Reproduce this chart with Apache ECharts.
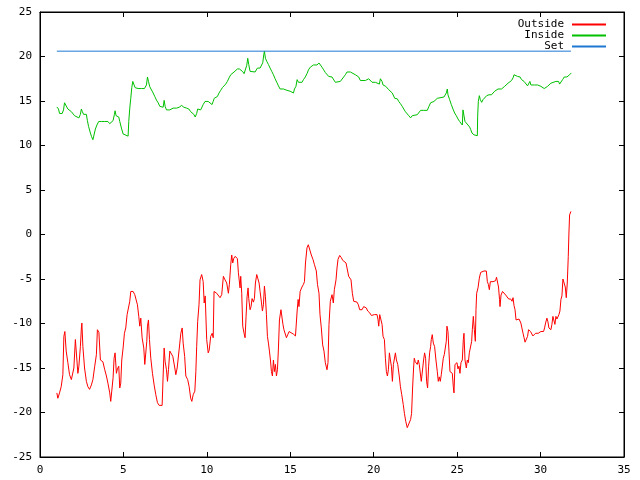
<!DOCTYPE html>
<html><head><meta charset="utf-8">
<script src="https://cdn.jsdelivr.net/npm/echarts@6/dist/echarts.min.js"></script>
<style>html,body{margin:0;padding:0;background:#fff}#c{width:640px;height:480px}</style>
</head><body><div id="c"></div>
<script>
var xTicks = [0,5,10,15,20,25,30,35];
var yTicks = [-25,-20,-15,-10,-5,0,5,10,15,20,25];
var seriesNames = ['Outside','Inside','Set'];
var seriesColors = ['#ff0000','#00c000','#1e78d2'];

var outsideX = [1.01,1.07,1.17,1.27,1.37,1.43,1.49,1.57,1.67,1.77,1.88,1.97,2.03,2.12,2.18,2.27,2.33,2.42,2.48,2.51,2.57,2.67,2.78,2.87,2.97,3.08,3.17,3.28,3.38,3.44,3.50,3.53,3.62,3.71,3.77,3.88,3.98,4.07,4.18,4.24,4.34,4.38,4.44,4.50,4.58,4.64,4.72,4.78,4.84,4.90,4.98,5.06,5.14,5.22,5.30,5.38,5.44,5.58,5.68,5.78,5.84,5.92,5.98,6.04,6.12,6.22,6.28,6.34,6.40,6.44,6.50,6.56,6.64,6.74,6.84,6.94,7.04,7.14,7.32,7.38,7.44,7.50,7.58,7.64,7.70,7.78,7.88,7.96,8.02,8.08,8.14,8.22,8.31,8.38,8.44,8.52,8.58,8.67,8.74,8.85,8.94,9.03,9.10,9.18,9.28,9.34,9.39,9.45,9.53,9.59,9.69,9.78,9.84,9.90,9.99,10.08,10.14,10.23,10.32,10.38,10.43,10.49,10.59,10.69,10.79,10.89,10.99,11.09,11.19,11.29,11.35,11.43,11.49,11.55,11.61,11.69,11.75,11.83,11.89,11.95,11.99,12.03,12.09,12.15,12.23,12.29,12.35,12.41,12.47,12.51,12.59,12.65,12.71,12.79,12.85,12.91,12.99,13.05,13.13,13.19,13.27,13.33,13.39,13.45,13.51,13.57,13.63,13.69,13.75,13.81,13.87,13.93,13.99,14.05,14.11,14.17,14.23,14.29,14.35,14.44,14.50,14.56,14.62,14.69,14.77,14.86,14.93,15.04,15.19,15.31,15.35,15.41,15.47,15.52,15.59,15.70,15.79,15.85,15.91,16.00,16.08,16.15,16.26,16.36,16.45,16.56,16.63,16.72,16.78,16.86,16.94,17.02,17.10,17.16,17.20,17.26,17.32,17.40,17.50,17.58,17.64,17.74,17.80,17.86,17.96,18.06,18.14,18.24,18.34,18.40,18.50,18.64,18.72,18.80,19.00,19.08,19.16,19.30,19.40,19.46,19.56,19.64,19.76,19.86,19.96,20.04,20.12,20.20,20.26,20.30,20.36,20.44,20.50,20.56,20.64,20.70,20.76,20.82,20.88,20.94,21.00,21.06,21.12,21.18,21.24,21.30,21.36,21.44,21.53,21.60,21.68,21.77,21.84,21.92,22.01,22.10,22.21,22.27,22.33,22.39,22.43,22.49,22.55,22.61,22.67,22.73,22.79,22.85,22.93,22.99,23.05,23.11,23.17,23.23,23.29,23.35,23.41,23.45,23.51,23.57,23.65,23.73,23.81,23.87,23.93,23.99,24.05,24.13,24.17,24.23,24.29,24.35,24.39,24.45,24.51,24.57,24.65,24.71,24.77,24.81,24.87,24.93,24.99,25.05,25.11,25.17,25.23,25.31,25.37,25.41,25.47,25.55,25.61,25.67,25.73,25.81,25.87,25.91,25.97,26.03,26.09,26.13,26.17,26.25,26.33,26.41,26.51,26.61,26.75,26.81,26.87,26.93,26.99,27.07,27.15,27.24,27.30,27.36,27.43,27.48,27.54,27.57,27.63,27.72,27.81,27.91,28.02,28.09,28.21,28.29,28.35,28.41,28.47,28.53,28.62,28.71,28.82,28.88,28.95,29.01,29.07,29.16,29.22,29.28,29.34,29.40,29.48,29.54,29.62,29.70,29.78,29.86,29.94,30.02,30.10,30.18,30.24,30.30,30.38,30.44,30.50,30.56,30.62,30.68,30.74,30.80,30.86,30.92,30.98,31.04,31.10,31.16,31.22,31.28,31.34,31.42,31.48,31.54,31.60,31.66,31.70,31.74,31.82];
var outsideY = [-17.8,-18.4,-17.8,-17.1,-15.75,-11.45,-10.9,-13.1,-14.4,-15.75,-16.3,-16.5,-15,-11.8,-12,-15.6,-14.8,-12.6,-10.5,-9.95,-12.6,-15,-16.5,-17.1,-17.4,-16.9,-16.3,-14.8,-13.5,-10.7,-10.5,-11,-14.1,-14.1,-14.3,-15.2,-15.9,-16.7,-17.8,-18.75,-18.6,-16.1,-13.9,-13.3,-15.6,-15.1,-14.8,-17.25,-16.7,-14.1,-12.75,-11.1,-10.5,-9,-8.26,-7.5,-6.4,-6.4,-6.76,-6.9,-7.9,-9.2,-10.3,-9.4,-11.6,-12.75,-14.6,-14.4,-12,-10.3,-9.6,-11.8,-13.9,-15.6,-16.9,-18,-18.9,-19.2,-19.2,-15.9,-12.75,-14.3,-15.2,-16.5,-15.2,-13.1,-13,-13.7,-13.9,-15,-15.75,-15,-14.8,-12.2,-11.1,-10.5,-12.2,-13.7,-15.9,-16.3,-17.1,-18.4,-18.75,-18,-17.6,-15.4,-12.6,-9.76,-7.9,-5.1,-4.5,-5.3,-7.7,-6.9,-11.8,-13.3,-13,-11.45,-11.1,-11.6,-6.4,-6.4,-6.6,-6.76,-7.1,-6.76,-4.7,-5.1,-5.45,-6.6,-5.6,-3.4,-2.3,-3.2,-2.7,-2.46,-2.3,-2.7,-4.3,-4.3,-6,-4.7,-6.6,-10.3,-11.1,-11.6,-9.2,-7,-6,-7.2,-8.45,-8.1,-7.2,-7.6,-7.2,-5.45,-4.5,-4.9,-5.45,-6.4,-7.6,-8.6,-7.9,-5.8,-7,-9,-11.45,-12.2,-13.1,-14.1,-15.4,-15.9,-14.1,-15.4,-14.6,-15.9,-15.2,-12.75,-9.6,-8.45,-8.45,-10.1,-10.7,-10.5,-11.6,-11.2,-10.9,-11.1,-11.2,-11.4,-10.3,-8.6,-7.3,-8.1,-6.4,-5.9,-5.6,-5.3,-3.2,-1.5,-1.15,-1.3,-2.3,-2.8,-3.4,-4.1,-5.6,-6.6,-9,-10.5,-12.4,-13.1,-14.4,-14.3,-15.2,-14.4,-10.1,-7.5,-6.76,-7.7,-6.2,-5.1,-3.76,-2.8,-2.35,-2.6,-2.9,-2.8,-3.2,-3.76,-4.7,-5.1,-6.6,-7.5,-7.6,-7.9,-8.45,-8.45,-8.1,-7.9,-8.26,-8.6,-8.8,-9.1,-8.9,-9,-9.2,-9,-9.6,-10.3,-9,-9.2,-10.1,-11.45,-11.8,-13.9,-15.4,-15.9,-15.2,-13.3,-14.1,-14.8,-16.5,-14.6,-14.4,-13.3,-14.1,-14.6,-15.9,-17.1,-18,-19.1,-20.1,-21,-21.7,-21.5,-20.8,-20.1,-17.25,-15,-13.9,-14.3,-14.1,-14.6,-14.1,-14.6,-14.8,-16.5,-16.5,-14.1,-13.3,-13.9,-16.5,-17.25,-14.8,-13.3,-12.6,-11.8,-11.25,-12.2,-12.6,-14.1,-15.4,-16.5,-16,-16.5,-15.75,-15.9,-13.9,-13.5,-13.7,-12,-10.3,-10.9,-13.1,-15.4,-15.4,-15.6,-17.1,-17.8,-14.6,-14.8,-14.4,-15.1,-14.8,-15.6,-14.4,-14.1,-11.8,-11.1,-14.1,-15,-14.1,-14.4,-13.3,-13.3,-12,-10.7,-9.2,-10.7,-12,-8.45,-6.6,-6,-4.9,-4.26,-4.1,-4.1,-4.1,-5.3,-5.6,-6.2,-5.3,-5.2,-5.3,-5.5,-5.2,-4.8,-4.9,-5.9,-7.3,-8.1,-6.8,-6.4,-6.5,-6.8,-6.9,-7.25,-7.25,-7.5,-7.1,-8,-8.45,-9.6,-9.6,-9.5,-9.95,-10.5,-11.1,-11.6,-12.1,-12,-11.45,-10.7,-10.5,-10.9,-11.1,-11.4,-11.3,-11.1,-11.25,-11.1,-11.1,-10.9,-11,-10.9,-10.5,-9.95,-9.4,-9.8,-10.5,-10.3,-10.7,-10.1,-9.2,-9,-10.1,-9.2,-9.5,-9.6,-9,-8.6,-7.3,-6.9,-5,-4.9,-5.9,-7.1,-5.45,-2.46,0.17,2.2,2.6];

var insideX = [1.01,1.11,1.17,1.27,1.33,1.41,1.47,1.57,1.67,1.77,1.88,1.97,2.07,2.18,2.33,2.42,2.48,2.54,2.61,2.72,2.78,2.84,2.91,3.02,3.09,3.17,3.26,3.32,3.41,3.52,3.68,3.88,4.07,4.18,4.28,4.38,4.46,4.50,4.56,4.64,4.72,4.78,4.88,4.98,5.08,5.28,5.32,5.38,5.44,5.50,5.56,5.62,5.70,5.88,6.08,6.18,6.26,6.32,6.38,6.44,6.50,6.58,6.68,6.78,6.88,6.98,7.08,7.18,7.28,7.38,7.44,7.50,7.58,7.78,7.98,8.19,8.34,8.49,8.62,8.79,8.92,9.03,9.12,9.22,9.30,9.39,9.45,9.54,9.63,9.71,9.78,9.89,9.99,10.08,10.19,10.31,10.38,10.44,10.53,10.63,10.73,10.83,10.93,11.03,11.13,11.23,11.33,11.43,11.53,11.63,11.73,11.83,11.95,12.05,12.15,12.23,12.33,12.39,12.45,12.51,12.59,12.69,12.89,13.03,13.19,13.29,13.35,13.41,13.45,13.51,13.59,13.69,13.79,13.89,13.99,14.09,14.19,14.29,14.39,14.59,14.80,14.99,15.19,15.25,15.34,15.41,15.49,15.59,15.70,15.79,15.90,16.00,16.09,16.20,16.30,16.39,16.60,16.72,16.80,16.90,17.00,17.10,17.20,17.30,17.50,17.60,17.70,17.80,18.00,18.10,18.20,18.30,18.40,18.60,18.70,18.90,19.00,19.10,19.20,19.30,19.50,19.60,19.70,19.80,19.90,20.10,20.20,20.34,20.40,20.50,20.56,20.64,20.72,20.81,20.90,21.00,21.11,21.20,21.26,21.41,21.50,21.60,21.71,21.80,21.90,22.01,22.10,22.21,22.31,22.40,22.61,22.70,22.81,22.91,23.00,23.21,23.31,23.41,23.61,23.71,23.81,24.21,24.35,24.41,24.45,24.55,24.65,24.75,24.85,24.95,25.05,25.15,25.25,25.31,25.35,25.41,25.47,25.55,25.65,25.75,25.81,25.89,26.01,26.21,26.23,26.27,26.33,26.39,26.47,26.55,26.65,26.77,26.91,27.06,27.15,27.25,27.36,27.45,27.55,27.66,27.75,27.85,27.96,28.05,28.16,28.26,28.35,28.41,28.52,28.62,28.77,28.86,29.01,29.12,29.22,29.28,29.36,29.42,29.52,29.62,29.72,29.82,29.92,30.02,30.12,30.22,30.32,30.42,30.52,30.62,30.72,30.92,31.08,31.14,31.22,31.32,31.42,31.58,31.66,31.74,31.84];
var insideY = [14.33,14.1,13.6,13.8,13.6,14,14.8,14.6,14.1,14.2,13.8,13.6,13.35,13.2,13.1,13.5,14.1,13.8,13.5,13.3,13.5,12.8,12.15,11.4,11,10.65,10.6,11.85,12.3,12.7,12.7,12.7,12.7,12.45,12.6,12.8,13.5,13.9,13.35,13.2,13.2,12.7,11.96,11.3,11.1,11.05,12.7,14.2,15.3,16.5,17.2,16.9,16.5,16.4,16.4,16.2,16.4,16.2,16.8,17.7,17.2,16.6,16.4,15.9,15.5,15.1,14.8,14.4,14.2,14.3,15.07,14.4,14,14,14.2,14.2,14.3,14.5,14.3,14.2,14.1,13.8,13.6,13.5,13.2,13.6,14.1,14,14,14.2,14.6,14.95,15.07,14.95,14.8,14.6,14.95,15.3,15.1,15.5,15.9,16.2,16.5,16.65,16.9,17.2,17.6,17.95,18.15,18.26,18.44,18.6,18.6,18.44,18.3,18.07,17.95,19.0,19.8,19.1,18.33,18.26,18.26,18.7,18.7,18.9,19.3,20.2,20.6,19.8,19.45,19.1,18.7,18.33,17.95,17.5,17.1,16.7,16.35,16.35,16.2,16.1,15.9,16.35,16.65,17.4,17.1,17.2,17.1,17.4,17.7,18.07,18.5,18.8,19.0,19.05,19.05,19.27,19.05,18.8,18.5,18.2,18.07,17.76,17.7,17.5,17.1,17.2,17.2,17.4,17.7,17.95,18.26,18.26,18.07,17.95,17.76,17.7,17.3,17.2,17.3,17.2,17.5,17.3,17.1,17.1,16.9,16.9,17.5,17.2,16.8,17.0,16.65,16.7,16.27,16.2,15.9,15.7,15.3,15.25,14.95,14.7,14.4,14.1,13.8,13.6,13.35,13.1,13.35,13.46,13.46,13.6,13.95,13.8,13.95,13.95,14.4,14.8,14.95,15.15,15.3,15.45,15.9,16.35,15.7,15.15,14.6,14.1,13.65,13.35,12.98,12.7,12.5,12.3,14.0,14.0,12.7,12.6,12.3,12.07,11.8,11.4,11.2,11.1,13.3,14.95,15.6,15.15,14.85,15.15,15.3,15.6,15.7,15.7,15.9,16.1,16.2,16.35,16.45,16.35,16.57,16.65,16.8,17.0,17.07,17.3,17.6,17.95,17.76,17.76,17.7,17.4,17.2,17.0,16.7,16.9,17.2,16.8,16.7,16.8,16.9,16.8,16.65,16.65,16.45,16.4,16.45,16.65,16.8,17.0,17.2,17.2,17.2,16.9,17.07,17.4,17.7,17.7,17.76,17.95,18.15];

var setX = [1.01, 31.82];
var setY = [20.6, 20.6];

function pairs(xs, ys){ var r=[]; for(var i=0;i<xs.length;i++) r.push([xs[i], ys[i]]); return r; }

var font = 'DejaVu Sans Mono';
var chart = echarts.init(document.getElementById('c'), null, {renderer:'canvas'});
function axis(extra){
  return Object.assign({
    type:'value', splitLine:{show:false},
    axisLine:{show:true, onZero:false, lineStyle:{color:'#000', width:1}},
    axisTick:{show:true, inside:true, length:5, lineStyle:{color:'#000'}}
  }, extra);
}
chart.setOption({
  animation:false,
  backgroundColor:'#fff',
  grid:{left:40, right:16, top:12, bottom:23, show:true, borderColor:'#000', borderWidth:1, backgroundColor:'transparent'},
  legend:{
    data:seriesNames, orient:'vertical', right:33, top:19, align:'right', padding:0,
    itemWidth:34, itemHeight:11, itemGap:0,
    itemStyle:{opacity:0},
    textStyle:{fontFamily:font, fontSize:11, color:'#000', padding:[0,3,0,0]}
  },
  xAxis:[
    axis({min:xTicks[0], max:xTicks[xTicks.length-1], interval:5, position:'bottom',
      axisLabel:{show:true, fontFamily:font, fontSize:11, color:'#000', margin:8}}),
    axis({min:xTicks[0], max:xTicks[xTicks.length-1], interval:5, position:'top', axisLabel:{show:false}})
  ],
  yAxis:[
    axis({min:yTicks[0], max:yTicks[yTicks.length-1], interval:5, position:'left',
      axisLabel:{show:true, fontFamily:font, fontSize:11, color:'#000', margin:8}}),
    axis({min:yTicks[0], max:yTicks[yTicks.length-1], interval:5, position:'right', axisLabel:{show:false}})
  ],
  series:[
    {name:seriesNames[0], type:'line', data:pairs(outsideX, outsideY), showSymbol:false, symbol:'none',
      lineStyle:{color:seriesColors[0], width:1}, itemStyle:{color:seriesColors[0]}},
    {name:seriesNames[1], type:'line', data:pairs(insideX, insideY), showSymbol:false, symbol:'none',
      lineStyle:{color:seriesColors[1], width:1}, itemStyle:{color:seriesColors[1]}},
    {name:seriesNames[2], type:'line', data:pairs(setX, setY), showSymbol:false, symbol:'none',
      lineStyle:{color:seriesColors[2], width:1}, itemStyle:{color:seriesColors[2]}}
  ]
});
</script></body></html>
